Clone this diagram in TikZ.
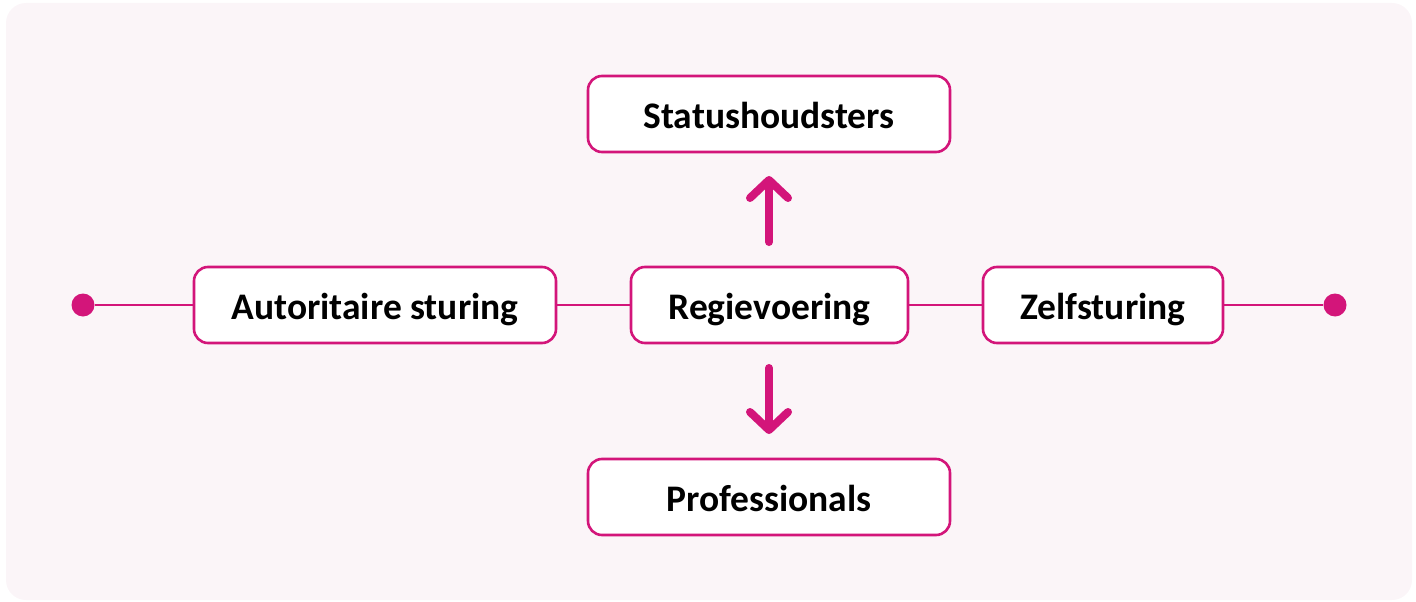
\documentclass[tikz,border=0pt]{standalone}
\usepackage{fontspec}
\setmainfont{Carlito}
\usetikzlibrary{arrows.meta}
\definecolor{accent}{HTML}{D3157A}
\definecolor{panel}{HTML}{FBF5F8}
\begin{document}
\begin{tikzpicture}[x=1pt,y=-1pt,
  box/.style={draw=accent, line width=2.6pt, fill=white, rounded corners=14pt,
    minimum height=76pt, inner sep=0pt, text height=31pt, text depth=3pt,
    font=\fontsize{37.5}{41}\selectfont\bfseries},
  link/.style={draw=accent, line width=2.6pt},
  endpoint/.style={circle, fill=accent, minimum size=23pt, inner sep=0pt},
  flow/.style={draw=accent, line width=8pt, line cap=round,
    -{Straight Barb[length=18pt,width=38pt,line cap=round,line join=round]}}]
  \useasboundingbox (0,0) rectangle (1416,602);
  \fill[panel, rounded corners=20pt] (6,3) rectangle (1412,600);

  \node[box, minimum width=362pt] (top) at (769,114) {Statushoudsters};
  \node[box, minimum width=362pt] (left) at (375,305) {Autoritaire sturing};
  \node[box, minimum width=277pt] (mid) at (769.5,305) {Regievoering};
  \node[box, minimum width=240pt] (right) at (1103,305) {Zelfsturing};
  \node[box, minimum width=362pt] (bottom) at (769,497) {Professionals};

  \node[endpoint] (ldot) at (83,305) {};
  \node[endpoint] (rdot) at (1335,305) {};

  \draw[link] (ldot) -- (left);
  \draw[link] (left) -- (mid);
  \draw[link] (mid) -- (right);
  \draw[link] (right) -- (rdot);

  \coordinate (upstart) at (769,242);
  \coordinate (upend) at (769,176);
  \coordinate (downstart) at (769,368);
  \coordinate (downend) at (769,434);
  \draw[flow] (upstart) -- (upend);
  \draw[flow] (downstart) -- (downend);
\end{tikzpicture}
\end{document}
